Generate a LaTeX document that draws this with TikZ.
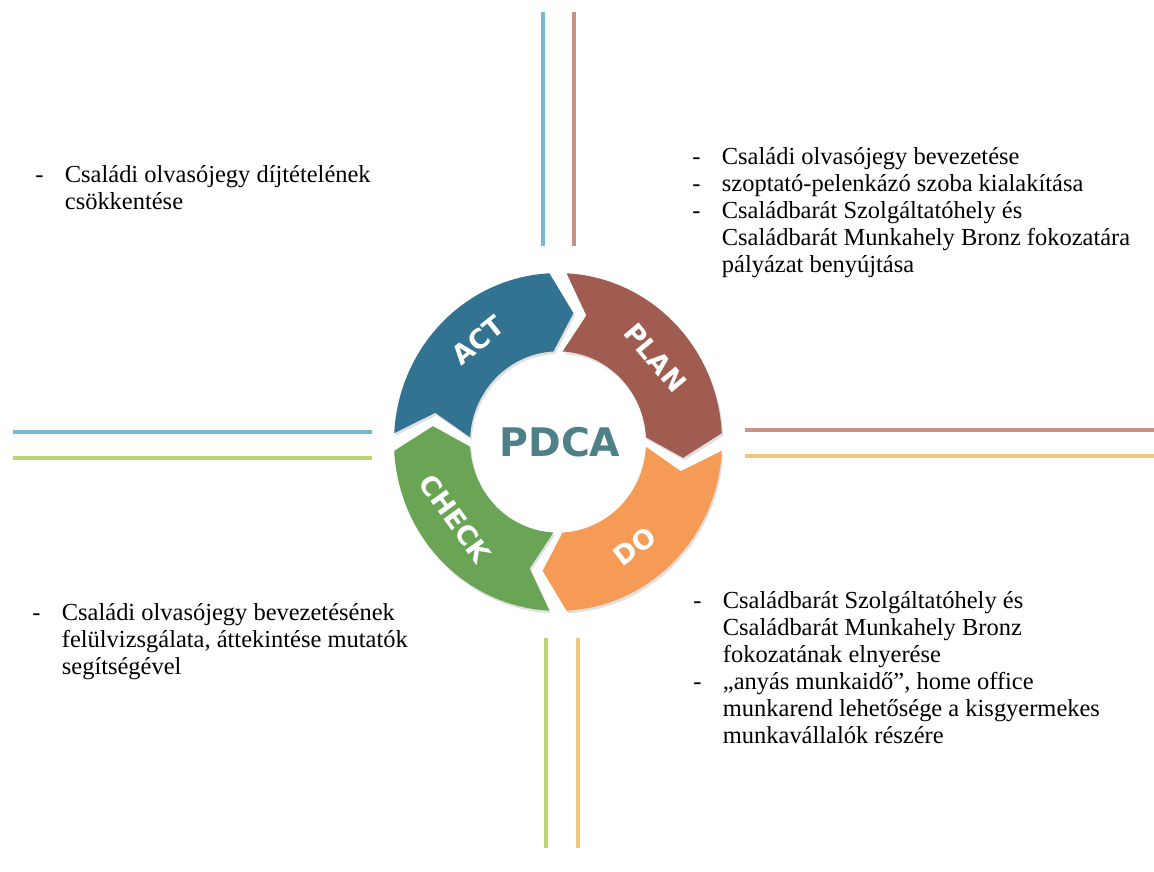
\documentclass[tikz,border=0pt]{standalone}
\usepackage{fontspec}
\setmainfont{Liberation Serif}
\newfontfamily\pdcafont{DejaVu Sans}
\usepackage{tikz}
\usetikzlibrary{positioning}

\definecolor{actblue}{RGB}{50,115,145}
\definecolor{planbrown}{RGB}{160,92,80}
\definecolor{doorange}{RGB}{245,155,85}
\definecolor{checkgreen}{RGB}{105,165,85}
\definecolor{pdcateal}{RGB}{78,128,135}
\definecolor{lineblue}{RGB}{120,185,210}
\definecolor{linesalmon}{RGB}{205,145,130}
\definecolor{linegreen}{RGB}{185,212,115}
\definecolor{lineorange}{RGB}{242,198,125}

% one arrow piece of the ring: start angle, colour
\newcommand{\ringpiece}[2]{%
  \fill[#2] (#1:164) arc[start angle=#1, end angle=#1-84, radius=164]
    -- (#1-94:126) -- (#1-84:88) arc[start angle=#1-84, end angle=#1, radius=88]
    -- (#1-10:126) -- cycle;
}
\newcommand{\itemdash}{\makebox[0.74cm][l]{-}}
\newcommand{\itemskip}{\hspace*{0.74cm}}

\begin{document}
\begin{tikzpicture}[x=0.025cm, y=0.025cm,
    rule/.style={line width=2.6pt},
    note/.style={inner sep=0pt, anchor=base west, font=\fontsize{17.4}{19.2}\selectfont},
    ringlabel/.style={text=white, font=\pdcafont\bfseries\fontsize{19}{19}\selectfont}]
    \useasboundingbox (0,0) rectangle (1154,872);

    % cross lines
    \draw[rule, lineblue] (543,860) -- (543,626);
    \draw[rule, linesalmon] (574,860) -- (574,626);
    \draw[rule, lineblue] (13,440) -- (372,440);
    \draw[rule, linegreen] (13,414) -- (372,414);
    \draw[rule, linesalmon] (745,442) -- (1154,442);
    \draw[rule, lineorange] (745,416) -- (1154,416);
    \draw[rule, linegreen] (546,234) -- (546,24);
    \draw[rule, lineorange] (578,234) -- (578,24);

    % PDCA ring
    \begin{scope}[shift={(558,430)}, yscale=1.03]
        \begin{scope}[shift={(1.5,-2.5)}]
            \ringpiece{87}{black!12}
            \ringpiece{-3}{black!12}
            \ringpiece{-93}{black!12}
            \ringpiece{177}{black!12}
        \end{scope}
        \ringpiece{87}{planbrown}
        \ringpiece{-3}{doorange}
        \ringpiece{-93}{checkgreen}
        \ringpiece{177}{actblue}

        \node[ringlabel, rotate=-50] (plan) at (40:127) {PLAN};
        \node[ringlabel, rotate=37] (do) at (-53:127) {DO};
        \node[ringlabel, rotate=-54] (check) at (-144:127) {CHECK};
        \node[ringlabel, rotate=39] (act) at (129:127) {ACT};
        \node[text=pdcateal, font=\pdcafont\bfseries\fontsize{28}{28}\selectfont] (pdca) at (2,0) {PDCA};
    \end{scope}

    % texts
    \node[note] (acttext) at (35,689) {\begin{tabular}[t]{@{}l@{}}
        \itemdash Családi olvasójegy díjtételének\\
        \itemskip csökkentése
    \end{tabular}};
    \node[note] (plantext) at (692,707) {\begin{tabular}[t]{@{}l@{}}
        \itemdash Családi olvasójegy bevezetése\\
        \itemdash szoptató-pelenkázó szoba kialakítása\\
        \itemdash Családbarát Szolgáltatóhely és\\
        \itemskip Családbarát Munkahely Bronz fokozatára\\
        \itemskip pályázat benyújtása
    \end{tabular}};
    \node[note] (checktext) at (32,251) {\begin{tabular}[t]{@{}l@{}}
        \itemdash Családi olvasójegy bevezetésének\\
        \itemskip felülvizsgálata, áttekintése mutatók\\
        \itemskip segítségével
    \end{tabular}};
    \node[note] (dotext) at (693,263) {\begin{tabular}[t]{@{}l@{}}
        \itemdash Családbarát Szolgáltatóhely és\\
        \itemskip Családbarát Munkahely Bronz\\
        \itemskip fokozatának elnyerése\\
        \itemdash „anyás munkaidő”, home office\\
        \itemskip munkarend lehetősége a kisgyermekes\\
        \itemskip munkavállalók részére
    \end{tabular}};
\end{tikzpicture}
\end{document}
